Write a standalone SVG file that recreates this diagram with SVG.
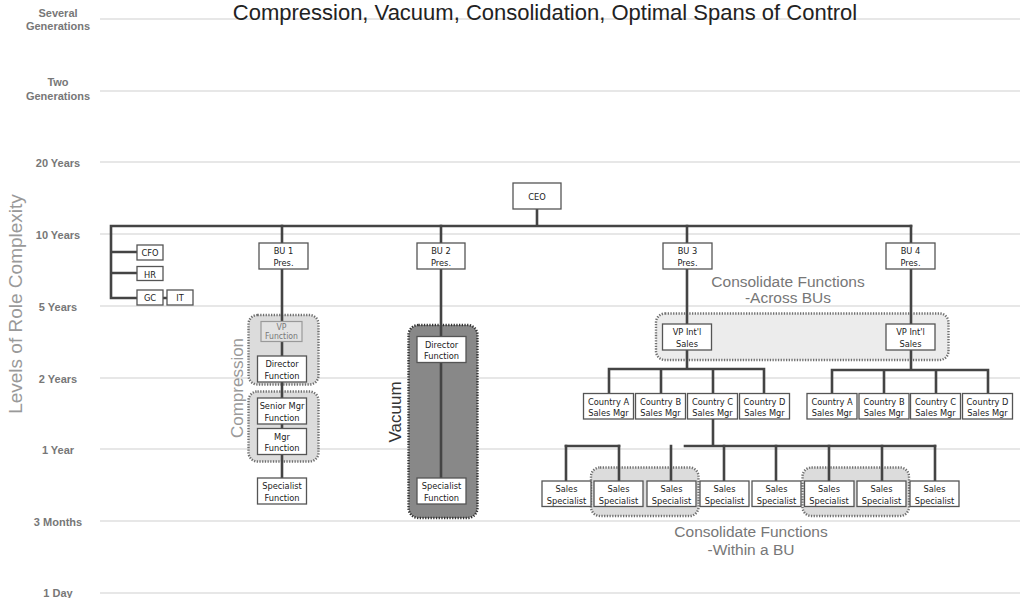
<svg xmlns="http://www.w3.org/2000/svg" width="1023" height="598" viewBox="0 0 1023 598">
  <style>
    .grid { stroke: #cfcfcf; stroke-width: 1.2; fill: none; }
    .lvl { font-family: "Liberation Sans", Arial, sans-serif; font-size: 11px; font-weight: bold; fill: #777; text-anchor: middle; }
    .title { font-family: "Liberation Sans", Arial, sans-serif; font-size: 22px; fill: #222; text-anchor: middle; }
    .axis { font-family: "Liberation Sans", Arial, sans-serif; font-size: 19px; fill: #999; text-anchor: middle; }
    .note { font-family: "Liberation Sans", Arial, sans-serif; font-size: 15.5px; fill: #777; text-anchor: middle; }
    .conn { stroke: #444; stroke-width: 2.6; fill: none; stroke-linecap: square; }
    .box { fill: #fff; stroke: #555; stroke-width: 1.3; }
    .ghost { fill: #e2e2e2; stroke: #999; stroke-width: 1.2; }
    .lbl { font-family: "Liberation Sans Narrow", "DejaVu Sans Condensed", "Roboto Condensed", sans-serif; font-stretch: condensed; font-size: 9.2px; fill: #222; text-anchor: middle; }
    .lbl-ghost { fill: #777; font-size: 8.6px; }
    .zone { fill: #dcdcdc; stroke: #707070; stroke-width: 2.4; stroke-dasharray: 1.3 1.4; }
    .zone-light { fill: #ececec; }
    .zone-dark { fill: #888; stroke: #333; }
  </style>

  <!-- time-span levels -->
  <g id="levels">
    <line class="grid" x1="100" y1="19" x2="1020" y2="19"/>
    <line class="grid" x1="100" y1="91" x2="1020" y2="91"/>
    <line class="grid" x1="100" y1="162" x2="1020" y2="162"/>
    <line class="grid" x1="100" y1="234" x2="1020" y2="234"/>
    <line class="grid" x1="100" y1="306" x2="1020" y2="306"/>
    <line class="grid" x1="100" y1="378" x2="1020" y2="378"/>
    <line class="grid" x1="100" y1="449" x2="1020" y2="449"/>
    <line class="grid" x1="100" y1="521" x2="1020" y2="521"/>
    <line class="grid" x1="100" y1="593" x2="1020" y2="593"/>
    <text class="lvl" x="58" y="17">Several</text>
    <text class="lvl" x="58" y="30">Generations</text>
    <text class="lvl" x="58" y="86">Two</text>
    <text class="lvl" x="58" y="100">Generations</text>
    <text class="lvl" x="58" y="167">20 Years</text>
    <text class="lvl" x="58" y="238.5">10 Years</text>
    <text class="lvl" x="58" y="310.5">5 Years</text>
    <text class="lvl" x="58" y="382.5">2 Years</text>
    <text class="lvl" x="58" y="453.5">1 Year</text>
    <text class="lvl" x="58" y="525.5">3 Months</text>
    <text class="lvl" x="58" y="597">1 Day</text>
  </g>

  <text class="title" x="545" y="20">Compression, Vacuum, Consolidation, Optimal Spans of Control</text>
  <text class="axis" transform="translate(21.5 304) rotate(-90)">Levels of Role Complexity</text>

  <!-- highlighted zones -->
  <g id="zones">
    <rect id="compression-upper" class="zone" x="248.5" y="315" width="70" height="69.5" rx="9"/>
    <rect id="compression-lower" class="zone" x="248.5" y="391.5" width="70" height="70" rx="9"/>
    <rect id="vacuum-zone" class="zone zone-dark" x="408.5" y="325" width="69" height="193" rx="10"/>
    <rect id="across-bus-zone" class="zone zone-light" x="656" y="313.5" width="292.5" height="46.5" rx="9"/>
    <rect id="within-bu-zone-1" class="zone" x="591" y="467.5" width="107.5" height="48.5" rx="9"/>
    <rect id="within-bu-zone-2" class="zone" x="802.5" y="467.5" width="106.5" height="48.5" rx="9"/>
  </g>
  <text class="note" transform="translate(243 388) rotate(-90)" style="font-size:17px;fill:#999">Compression</text>
  <text class="note" transform="translate(400.5 412) rotate(-90)" style="font-size:17px;fill:#333">Vacuum</text>
  <text class="note" x="788" y="287">Consolidate Functions</text>
  <text class="note" x="788" y="303">-Across BUs</text>
  <text class="note" x="751" y="537">Consolidate Functions</text>
  <text class="note" x="751" y="555">-Within a BU</text>

  <!-- reporting lines -->
  <g id="connectors">
    <path class="conn" d="M537 209V226M111 226H911M111 226V298M111 252H137M111 273H137M111 298H137M163 298H167"/>
    <path class="conn" d="M282 226V478"/>
    <path class="conn" d="M441 226V478"/>
    <path class="conn" d="M687 226V369M609 369H764M609 369V393M661 369V393M713 369V393M764 369V393"/>
    <path class="conn" d="M911 226V370M832 370H988M832 370V393M884 370V393M936 370V393M988 370V393"/>
    <path class="conn" d="M713 419V446M566 446H619M685 446H935"/>
    <path class="conn" d="M566 446V481M619 446V481M671 446V481M724 446V481M776 446V481M829 446V481M882 446V481M935 446V481"/>
  </g>

  <!-- executive level -->
  <g id="ceo"><rect class="box" x="513" y="183" width="48" height="26"/><text class="lbl" x="537" y="199.5">CEO</text></g>
  <g id="cfo"><rect class="box" x="137" y="245" width="26" height="15"/><text class="lbl" x="150" y="256">CFO</text></g>
  <g id="hr"><rect class="box" x="137" y="266.5" width="26" height="14"/><text class="lbl" x="150" y="277.5">HR</text></g>
  <g id="gc"><rect class="box" x="137" y="290" width="26" height="15"/><text class="lbl" x="150" y="301">GC</text></g>
  <g id="it"><rect class="box" x="167" y="290" width="26" height="15"/><text class="lbl" x="180" y="301">IT</text></g>

  <g id="bu1"><rect class="box" x="259" y="243" width="49" height="26"/><text class="lbl" x="283.5" y="254">BU 1</text><text class="lbl" x="283.5" y="265.5">Pres.</text></g>
  <g id="bu2"><rect class="box" x="417" y="243" width="48" height="26"/><text class="lbl" x="441" y="254">BU 2</text><text class="lbl" x="441" y="265.5">Pres.</text></g>
  <g id="bu3"><rect class="box" x="663" y="243" width="49" height="26"/><text class="lbl" x="687.5" y="254">BU 3</text><text class="lbl" x="687.5" y="265.5">Pres.</text></g>
  <g id="bu4"><rect class="box" x="886" y="243" width="49" height="26"/><text class="lbl" x="910.5" y="254">BU 4</text><text class="lbl" x="910.5" y="265.5">Pres.</text></g>

  <!-- BU 1 chain -->
  <g id="bu1-vp"><rect class="ghost" x="261" y="321.5" width="41" height="20"/><text class="lbl lbl-ghost" x="281.5" y="330">VP</text><text class="lbl lbl-ghost" x="281.5" y="339">Function</text></g>
  <g id="bu1-director"><rect class="box" x="257.5" y="356" width="49" height="26"/><text class="lbl" x="282" y="367">Director</text><text class="lbl" x="282" y="378.5">Function</text></g>
  <g id="bu1-senior-mgr"><rect class="box" x="257.5" y="398" width="49" height="26"/><text class="lbl" x="282" y="409">Senior Mgr</text><text class="lbl" x="282" y="420.5">Function</text></g>
  <g id="bu1-mgr"><rect class="box" x="257.5" y="428.5" width="49" height="26"/><text class="lbl" x="282" y="439.5">Mgr</text><text class="lbl" x="282" y="451">Function</text></g>
  <g id="bu1-specialist"><rect class="box" x="257.5" y="478" width="49" height="26"/><text class="lbl" x="282" y="489">Specialist</text><text class="lbl" x="282" y="500.5">Function</text></g>

  <!-- BU 2 chain -->
  <g id="bu2-director"><rect class="box" x="417" y="336.5" width="49" height="26"/><text class="lbl" x="441.5" y="347.5">Director</text><text class="lbl" x="441.5" y="359">Function</text></g>
  <g id="bu2-specialist"><rect class="box" x="417" y="478" width="49" height="26"/><text class="lbl" x="441.5" y="489">Specialist</text><text class="lbl" x="441.5" y="500.5">Function</text></g>

  <!-- BU 3 sales -->
  <g id="bu3-vp"><rect class="box" x="662.5" y="324" width="49" height="26"/><text class="lbl" x="687" y="335">VP Int'l</text><text class="lbl" x="687" y="346.5">Sales</text></g>
  <g id="bu3-country-a"><rect class="box" x="583.5" y="393.5" width="50" height="25.5"/><text class="lbl" x="608.5" y="404.5">Country A</text><text class="lbl" x="608.5" y="416">Sales Mgr</text></g>
  <g id="bu3-country-b"><rect class="box" x="635.5" y="393.5" width="50" height="25.5"/><text class="lbl" x="660.5" y="404.5">Country B</text><text class="lbl" x="660.5" y="416">Sales Mgr</text></g>
  <g id="bu3-country-c"><rect class="box" x="687.5" y="393.5" width="50" height="25.5"/><text class="lbl" x="712.5" y="404.5">Country C</text><text class="lbl" x="712.5" y="416">Sales Mgr</text></g>
  <g id="bu3-country-d"><rect class="box" x="739.5" y="393.5" width="50" height="25.5"/><text class="lbl" x="764.5" y="404.5">Country D</text><text class="lbl" x="764.5" y="416">Sales Mgr</text></g>

  <!-- BU 4 sales -->
  <g id="bu4-vp"><rect class="box" x="886" y="324" width="49" height="26"/><text class="lbl" x="910.5" y="335">VP Int'l</text><text class="lbl" x="910.5" y="346.5">Sales</text></g>
  <g id="bu4-country-a"><rect class="box" x="807" y="393.5" width="50" height="25.5"/><text class="lbl" x="832" y="404.5">Country A</text><text class="lbl" x="832" y="416">Sales Mgr</text></g>
  <g id="bu4-country-b"><rect class="box" x="859" y="393.5" width="50" height="25.5"/><text class="lbl" x="884" y="404.5">Country B</text><text class="lbl" x="884" y="416">Sales Mgr</text></g>
  <g id="bu4-country-c"><rect class="box" x="910.5" y="393.5" width="50" height="25.5"/><text class="lbl" x="935.5" y="404.5">Country C</text><text class="lbl" x="935.5" y="416">Sales Mgr</text></g>
  <g id="bu4-country-d"><rect class="box" x="962.5" y="393.5" width="50" height="25.5"/><text class="lbl" x="987.5" y="404.5">Country D</text><text class="lbl" x="987.5" y="416">Sales Mgr</text></g>

  <!-- sales specialists under Country C -->
  <g id="specialist-1"><rect class="box" x="542" y="481" width="49" height="25.5"/><text class="lbl" x="566.5" y="492">Sales</text><text class="lbl" x="566.5" y="503.5">Specialist</text></g>
  <g id="specialist-2"><rect class="box" x="594" y="481" width="49" height="25.5"/><text class="lbl" x="618.5" y="492">Sales</text><text class="lbl" x="618.5" y="503.5">Specialist</text></g>
  <g id="specialist-3"><rect class="box" x="647" y="481" width="49" height="25.5"/><text class="lbl" x="671.5" y="492">Sales</text><text class="lbl" x="671.5" y="503.5">Specialist</text></g>
  <g id="specialist-4"><rect class="box" x="700" y="481" width="49" height="25.5"/><text class="lbl" x="724.5" y="492">Sales</text><text class="lbl" x="724.5" y="503.5">Specialist</text></g>
  <g id="specialist-5"><rect class="box" x="752" y="481" width="49" height="25.5"/><text class="lbl" x="776.5" y="492">Sales</text><text class="lbl" x="776.5" y="503.5">Specialist</text></g>
  <g id="specialist-6"><rect class="box" x="804.5" y="481" width="49.5" height="25.5"/><text class="lbl" x="829" y="492">Sales</text><text class="lbl" x="829" y="503.5">Specialist</text></g>
  <g id="specialist-7"><rect class="box" x="857" y="481" width="49" height="25.5"/><text class="lbl" x="881.5" y="492">Sales</text><text class="lbl" x="881.5" y="503.5">Specialist</text></g>
  <g id="specialist-8"><rect class="box" x="910" y="481" width="49" height="25.5"/><text class="lbl" x="934.5" y="492">Sales</text><text class="lbl" x="934.5" y="503.5">Specialist</text></g>
</svg>
